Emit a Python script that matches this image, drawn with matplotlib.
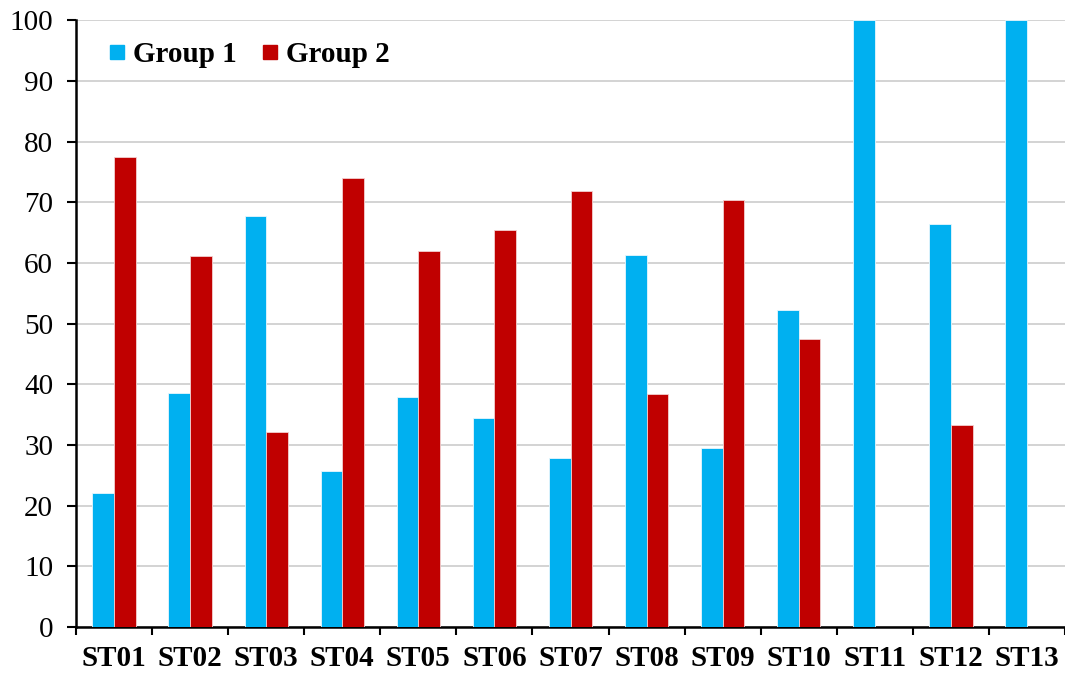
import numpy as np
import matplotlib.pyplot as plt
from matplotlib.lines import Line2D

plt.rcParams['font.family'] = ['Liberation Serif', 'DejaVu Serif']

stations = ['ST01', 'ST02', 'ST03', 'ST04', 'ST05', 'ST06', 'ST07',
            'ST08', 'ST09', 'ST10', 'ST11', 'ST12', 'ST13']
group1 = [22.1, 38.6, 67.7, 25.8, 37.9, 34.4, 27.8, 61.3, 29.5, 52.2, 100.0, 66.5, 100.0]
group2 = [77.5, 61.1, 32.1, 74.0, 61.9, 65.4, 71.8, 38.4, 70.3, 47.4, 0.0, 33.3, 0.0]

c1 = '#00B0F0'
c2 = '#C00000'

fig = plt.figure(figsize=(10.65, 6.75), dpi=100)
ax = fig.add_axes([0.0714, 0.071, 0.9286, 0.899])

x = np.arange(len(stations))
w = 0.285
ax.bar(x - w/2, group1, w, color=c1, edgecolor='#e8f7fd', linewidth=0.6, zorder=3)
ax.bar(x + w/2, group2, w, color=c2, edgecolor='#f3d0d0', linewidth=0.6, zorder=3)

ax.set_xlim(-0.5, len(stations) - 0.5)
ax.set_ylim(0, 100)
ax.set_yticks(np.arange(0, 101, 10))
ax.yaxis.grid(True, color='#d0d0d0', linewidth=1.3, zorder=0)
ax.set_axisbelow(True)

ax.set_xticks(x)
ax.set_xticklabels(stations, fontweight='bold', fontsize=21)
ax.set_xticks(np.arange(-0.5, len(stations), 1), minor=True)
ax.tick_params(axis='x', which='major', length=0, pad=13)
ax.tick_params(axis='x', which='minor', length=6, width=1.5, direction='out')
ax.tick_params(axis='y', length=6.5, width=1.5, labelsize=21, pad=10)

for s in ['top', 'right']:
    ax.spines[s].set_visible(False)
for s in ['left', 'bottom']:
    ax.spines[s].set_linewidth(1.8)
    ax.spines[s].set_color('black')

handles = [Line2D([], [], marker='s', color=c1, linestyle='none', markersize=9.5),
           Line2D([], [], marker='s', color=c2, linestyle='none', markersize=9.5)]
ax.legend(handles, ['Group 1', 'Group 2'], loc='center left',
          bbox_to_anchor=(0.034, 0.943), frameon=False, ncol=2,
          prop={'weight': 'bold', 'size': 21}, handlelength=0.5,
          handletextpad=0.3, columnspacing=0.9, borderpad=0, borderaxespad=0)

fig.savefig('out.png', dpi=100)
